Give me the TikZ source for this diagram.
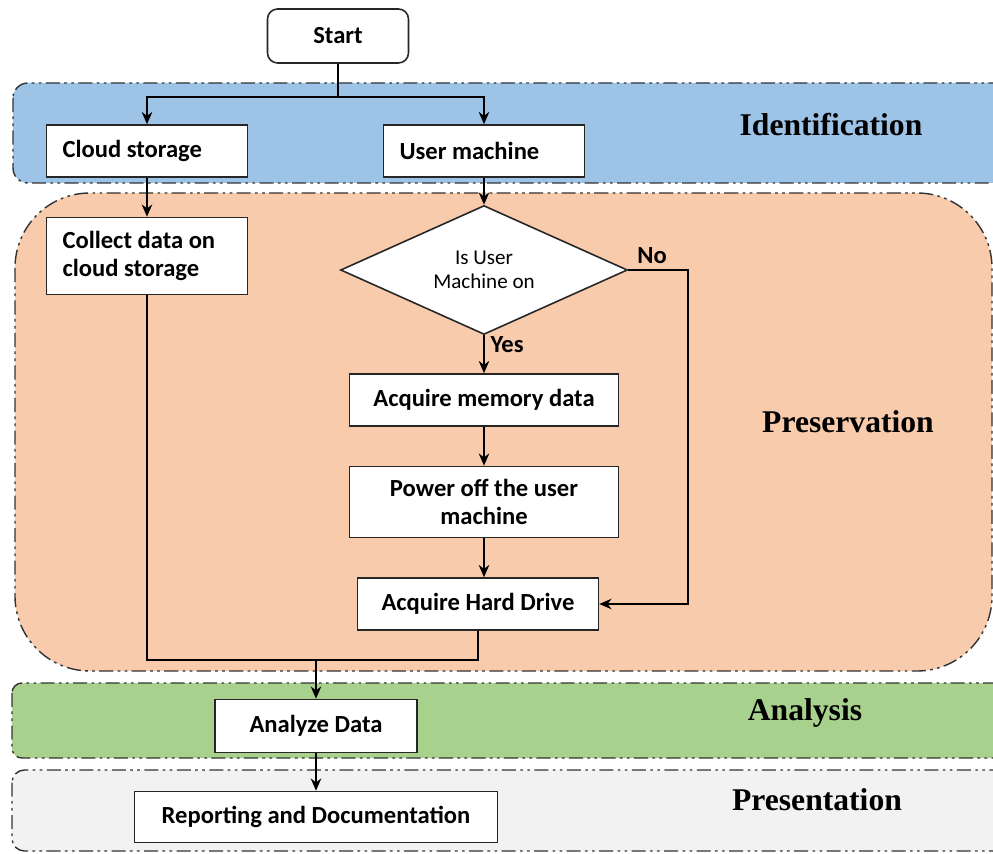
\documentclass[tikz,border=0pt]{standalone}
\usepackage{fontspec}
\setmainfont{Carlito}
\newfontfamily\phasefont{Liberation Serif}
\usetikzlibrary{arrows.meta,positioning,shapes.geometric}

\definecolor{identblue}{RGB}{157,195,230}
\definecolor{preserpeach}{RGB}{248,203,173}
\definecolor{analgreen}{RGB}{169,209,142}
\definecolor{presgray}{RGB}{242,242,242}

\tikzset{
  stepbox/.style={draw=black!85, fill=white, line width=0.9pt,
    font=\bfseries\fontsize{14}{15.5}\selectfont, align=center,
    inner sep=0.1cm, minimum height=1.04cm},
  leftbox/.style={stepbox, align=flush left, inner xsep=0.32cm, text width=3.38cm},
  decision/.style={diamond, aspect=2.2, draw=black!85, fill=white, line width=0.9pt,
    inner sep=0pt, minimum width=5.74cm, minimum height=2.58cm, align=center,
    font=\fontsize{12}{13.5}\selectfont},
  phaseband/.style={draw=black!80, line width=0.8pt,
    dash pattern=on 8pt off 2.5pt on 1.5pt off 2.5pt on 1.5pt off 2.5pt},
  phaselabel/.style={font=\phasefont\bfseries\fontsize{18}{20}\selectfont},
  flowlabel/.style={font=\bfseries\fontsize{14}{15.5}\selectfont}
}

\begin{document}
\begin{tikzpicture}[x=0.02cm, y=-0.02cm, >={Stealth[length=7pt,width=6pt]},
        line width=0.9pt]

  \useasboundingbox[fill=white] (0,0) rectangle (993,854);

  % phases
  \filldraw[phaseband, fill=identblue, rounded corners=0.3cm] (13,83) rectangle (1010,183);
  \filldraw[phaseband, fill=preserpeach, rounded corners=1.5cm] (15,193) rectangle (992,671);
  \filldraw[phaseband, fill=analgreen, rounded corners=0.2cm] (12,683) rectangle (1010,758);
  \filldraw[phaseband, fill=presgray, rounded corners=0.25cm] (12,770) rectangle (1010,851);

  \node[phaselabel] (identlbl) at (831,125) {Identification};
  \node[phaselabel] (preslbl) at (848,422) {Preservation};
  \node[phaselabel] (analbl) at (805,713) {Analysis};
  \node[phaselabel] (replbl) at (817,800) {Presentation};

  % steps
  \node[stepbox, rounded corners=0.2cm, minimum width=2.82cm, minimum height=1.08cm] (start) at (338,36) {Start};
  \node[leftbox] (cloud) at (147,151) {Cloud storage};
  \node[leftbox] (user) at (484,151) {User machine};
  \node[leftbox, minimum height=1.54cm] (collect) at (147,256) {Collect data on\\cloud storage};
  \node[decision] (ison) at (484,270) {Is User\\Machine on};
  \node[stepbox, minimum width=5.38cm] (memory) at (484,400) {Acquire memory data};
  \node[stepbox, minimum width=5.38cm, minimum height=1.42cm] (poweroff) at (484,502) {Power off the user\\machine};
  \node[stepbox, minimum width=4.82cm] (harddrive) at (478,604) {Acquire Hard Drive};
  \node[stepbox, minimum width=4.04cm, minimum height=1.06cm] (analyze) at (316,726) {Analyze Data};
  \node[stepbox, minimum width=7.26cm, minimum height=1.02cm] (report) at (316,817) {Reporting and Documentation};

  \coordinate (split) at (338,97);
  \coordinate (noturn) at (688,270);
  \coordinate (merge) at (316,660);

  % connectors
  \draw (start.south) -- (split);
  \draw[->] (split) -| (cloud.north);
  \draw[->] (split) -| (user.north);
  \draw[->] (cloud.south) -- (collect.north);
  \draw[->] (user.south) -- (ison.north);
  \draw[->] (ison.south) -- node[flowlabel, right, pos=0.25] {Yes} (memory.north);
  \draw[->] (ison.east) -- node[flowlabel, above, pos=0.4] {No} (noturn) |- (harddrive.east);
  \draw[->] (memory.south) -- (poweroff.north);
  \draw[->] (poweroff.south) -- (poweroff.south |- harddrive.north);
  \draw (collect.south) |- (harddrive.south |- merge) -- (harddrive.south);
  \draw[->] (merge) -- (analyze.north);
  \draw[->] (analyze.south) -- (report.north);

\end{tikzpicture}
\end{document}
